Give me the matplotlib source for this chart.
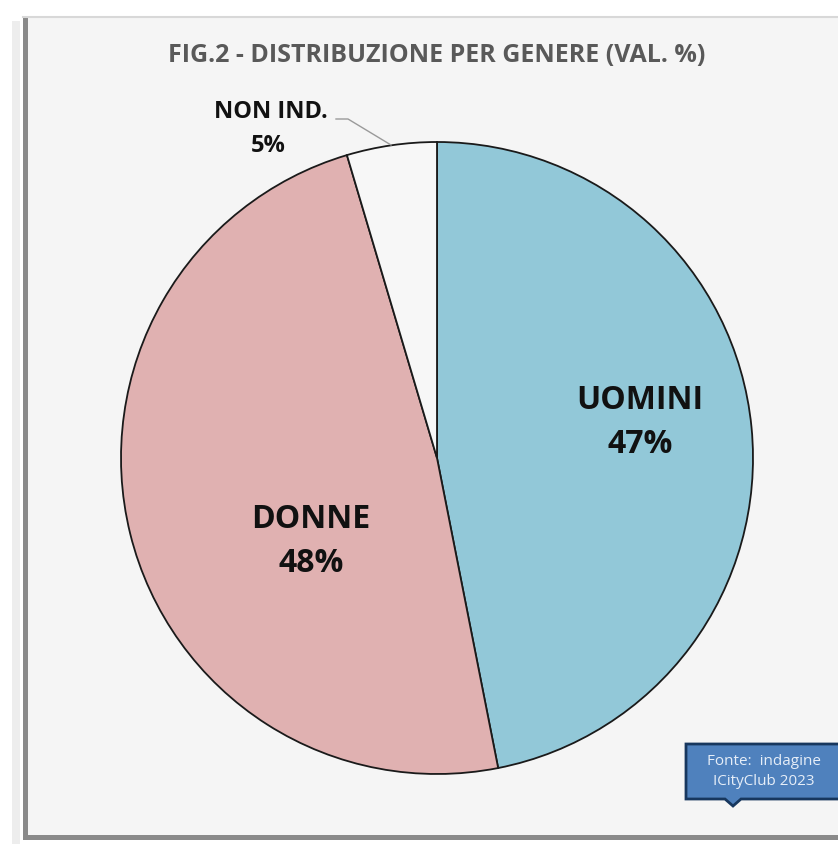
import matplotlib.pyplot as plt
from matplotlib.patches import Rectangle, Polygon

plt.rcParams['font.family'] = ['Open Sans', 'DejaVu Sans']

categories = ['UOMINI', 'DONNE', 'NON IND.']
values = [46.9, 48.5, 4.6]
labels_pct = ['47%', '48%', '5%']
colors = ['#92C8D8', '#E0B1B1', '#F7F7F7']

W, H = 838, 845
fig = plt.figure(figsize=(W / 100, H / 100), dpi=100)
fig.patch.set_facecolor('white')
ax = fig.add_axes([0, 0, 1, 1])
ax.set_xlim(0, W)
ax.set_ylim(0, H)
ax.set_aspect('equal')
ax.axis('off')

# cornice del grafico con ombra (solo lato sinistro e in basso)
ax.add_patch(Rectangle((12, 0), 8, H - 22, facecolor='#EDEDED', edgecolor='none', zorder=0))
ax.add_patch(Rectangle((23, 4), W, H - 22, facecolor='#8A8A8A', edgecolor='none', zorder=0))
ax.add_patch(Rectangle((28, 9), W, H - 27, facecolor='#F5F5F5', edgecolor='none', zorder=0))
ax.plot([23, W], [H - 18, H - 18], color='#D8D8D8', lw=1.5, zorder=0)

cx, cy, r = 437, H - 459, 316
wedges, _ = ax.pie(values, colors=colors, startangle=90, counterclock=False,
                   center=(cx, cy), radius=r, frame=True,
                   wedgeprops=dict(edgecolor='#1A1A1A', linewidth=1.3))
ax.set_xlim(0, W)
ax.set_ylim(0, H)
ax.axis('off')

# etichette
big = dict(ha='center', va='center', fontsize=23, fontweight='bold', color='#111111')
small = dict(ha='center', va='center', fontsize=17, fontweight='bold', color='#111111')
ax.text(640, H - 401, categories[0], **big)
ax.text(640, H - 445, labels_pct[0], **big)
ax.text(311, H - 519, categories[1], **big)
ax.text(311, H - 563, labels_pct[1], **big)
ax.text(271, H - 112, categories[2], **small)
ax.text(268, H - 146, labels_pct[2], **small)
ax.plot([336, 348, 391], [H - 120, H - 120, H - 146], color='#9A9A9A', lw=1, zorder=5)

# titolo
ax.text(437, H - 55, 'FIG.2 - DISTRIBUZIONE PER GENERE (VAL. %)', ha='center',
        va='center', fontsize=18, fontweight='bold', color='#595959')

# riquadro fonte
bx0, bx1, by0, by1 = 686, 845, H - 800, H - 745
box = Polygon([(bx0, by1), (bx1, by1), (bx1, by0), (741, by0), (733, by0 - 7),
               (725, by0), (bx0, by0)], closed=True, facecolor='#4F81BD',
              edgecolor='#17375E', linewidth=2, zorder=6)
ax.add_patch(box)
ax.text(764, H - 762, 'Fonte:  indagine', ha='center', va='center', fontsize=11,
        color='#E6EEF8', zorder=7)
ax.text(764, H - 782, 'ICityClub 2023', ha='center', va='center', fontsize=11,
        color='#E6EEF8', zorder=7)

fig.savefig('out.png', dpi=100)
